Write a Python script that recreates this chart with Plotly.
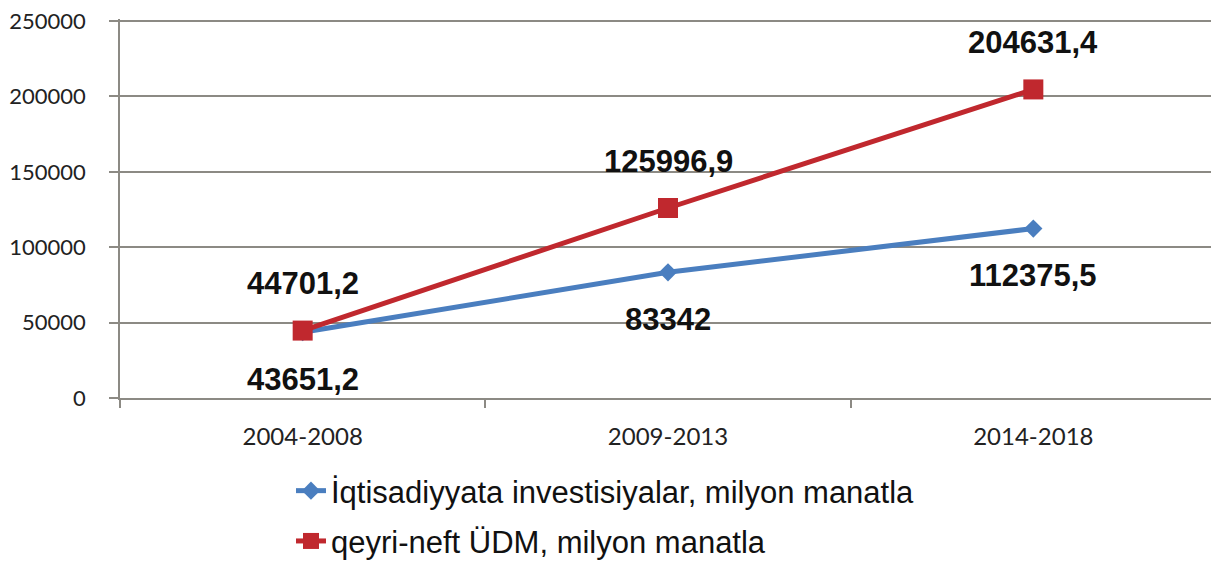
import plotly.graph_objects as go

categories = ["2004-2008", "2009-2013", "2014-2018"]
invest = [43651.2, 83342, 112375.5]
gdp = [44701.2, 125996.9, 204631.4]
invest_labels = ["43651,2", "83342", "112375,5"]
gdp_labels = ["44701,2", "125996,9", "204631,4"]
y_ticks = [0, 50000, 100000, 150000, 200000, 250000]

BLUE = "#4a7ebf"
RED = "#c0282e"
GRID = "#8c8a84"

fig = go.Figure()
fig.add_trace(go.Scatter(
    x=categories, y=invest, mode="lines+markers",
    name="İqtisadiyyata investisiyalar, milyon manatla",
    line=dict(color=BLUE, width=5),
    marker=dict(symbol="diamond", size=14, color=BLUE),
    legendgroup="a",
))
fig.add_trace(go.Scatter(
    x=categories, y=gdp, mode="lines+markers",
    name="qeyri-neft ÜDM, milyon manatla",
    line=dict(color=RED, width=5),
    marker=dict(symbol="square", size=20, color=RED),
    legendgroup="b",
))

label_font = dict(family="Liberation Sans, Arial, sans-serif", size=31, color="#111111")
for c, v, t in zip(categories, gdp, gdp_labels):
    fig.add_annotation(x=c, y=v, text="<b>%s</b>" % t, showarrow=False,
                       yshift=47, font=label_font)
for c, v, t in zip(categories, invest, invest_labels):
    fig.add_annotation(x=c, y=v, text="<b>%s</b>" % t, showarrow=False,
                       yshift=-47, font=label_font)

fig.update_layout(
    width=1211, height=560,
    margin=dict(l=112, r=3, t=11, b=170),
    plot_bgcolor="white", paper_bgcolor="white",
    showlegend=True,
    legend=dict(
        x=0.156, y=0.0, xref="paper", yref="container",
        xanchor="left", yanchor="bottom",
        font=dict(family="Liberation Sans, Arial, sans-serif",
                  size=31, color="#111111"),
        traceorder="grouped", tracegroupgap=7,
        bgcolor="rgba(0,0,0,0)",
    ),
)
fig.update_xaxes(
    type="category", range=[-0.5, 2.5], automargin=False,
    showline=True, linecolor=GRID, linewidth=2,
    ticks="outside", tickson="boundaries", ticklen=8, tickcolor=GRID, tickwidth=1.5,
    showgrid=False, ticklabelstandoff=16,
    tickfont=dict(family="Lato, Carlito, sans-serif", size=24, color="#222222"),
)
fig.update_yaxes(
    range=[0, 251330], tickvals=y_ticks, ticktext=[str(v) for v in y_ticks],
    automargin=False, ticklabeloverflow="allow",
    showline=True, linecolor=GRID, linewidth=1.5,
    ticks="outside", ticklen=9, tickcolor=GRID, tickwidth=1.5,
    showgrid=True, gridcolor=GRID, gridwidth=1.5,
    zeroline=False, ticklabelstandoff=19,
    tickfont=dict(family="Lato, Carlito, sans-serif", size=22, color="#222222"),
)

fig.write_html("out.html")
